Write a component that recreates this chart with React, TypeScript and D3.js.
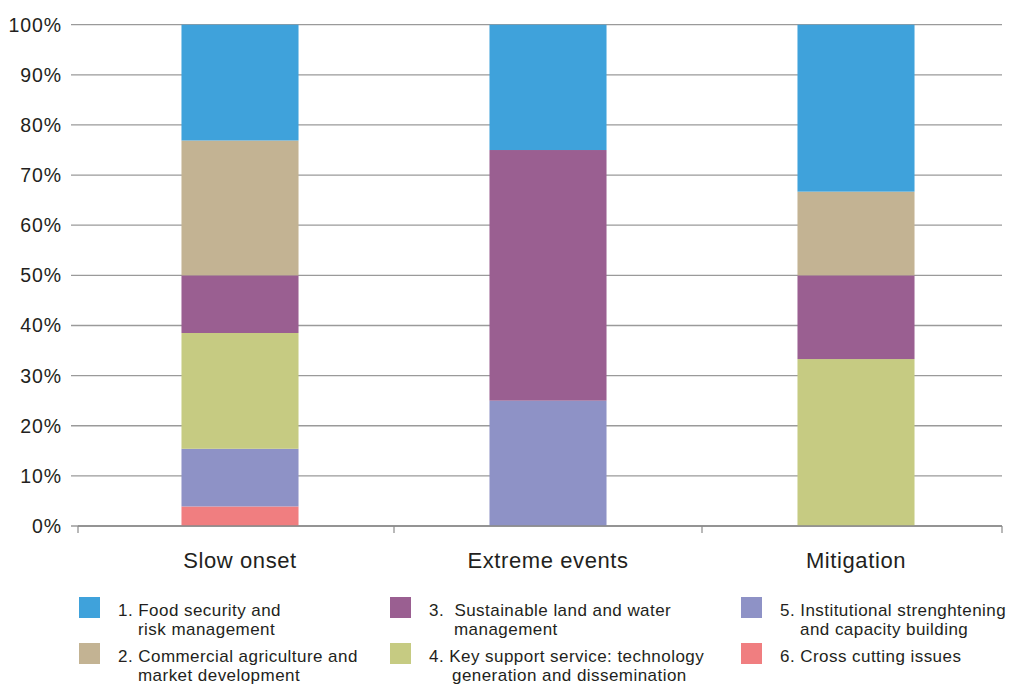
import React from "react";
import * as d3 from "d3";

const categories = ["Slow onset", "Extreme events", "Mitigation"];
const seriesNames = [
  "1. Food security and|risk management",
  "2. Commercial agriculture and|market development",
  "3.  Sustainable land and water|management",
  "4. Key support service: technology|generation and dissemination",
  "5. Institutional strenghtening|and capacity building",
  "6. Cross cutting issues",
];
const seriesKeys = ["food", "commercial", "sustainable", "support", "institutional", "cross"];
const colors = ["#3FA2DB", "#C3B393", "#9A5F91", "#C6CB82", "#8E92C6", "#F07E80"];
// percentages per category
const food = [23.1, 25, 33.3];
const commercial = [26.9, 0, 16.7];
const sustainable = [11.5, 50, 16.7];
const support = [23.1, 0, 33.3];
const institutional = [11.5, 25, 0];
const cross = [3.9, 0, 0];
const yTicks = [0, 10, 20, 30, 40, 50, 60, 70, 80, 90, 100];

export default function App() {
  const W = 1011, H = 684;
  const x0 = 78, x1 = 1002, yTop = 24.7, yBot = 526;
  const x = d3.scaleBand<string>().domain(categories).range([x0 + 8, x1 + 8]).paddingInner(0.62).paddingOuter(0.31);
  const y = d3.scaleLinear().domain([0, 100]).range([yBot, yTop]);
  const rows = categories.map((c, i) => ({
    cat: c,
    food: food[i],
    commercial: commercial[i],
    sustainable: sustainable[i],
    support: support[i],
    institutional: institutional[i],
    cross: cross[i],
  }));
  const stackOrder = [...seriesKeys].reverse();
  const stacked = d3.stack<any>().keys(stackOrder)(rows);
  const tickXs = [x0, ...categories.slice(1).map((c, i) => {
    const prevEnd = (x(categories[i]) as number) + x.bandwidth();
    return (prevEnd + (x(c) as number)) / 2;
  }), x1];
  const font = "'Liberation Sans', Arial, Helvetica, sans-serif";
  const legendCols = [79, 390, 741];
  const legendText = [118, 429, 780];
  const legendIndent = [138, 454, 800];
  const legendRows = [597, 643];
  return (
    <svg width={W} height={H} style={{ position: "absolute", left: 0, top: 0, background: "#fff" }} fontFamily={font}>
      {yTicks.map((t) => (
        <g key={t}>
          <line x1={x0 - 7} x2={x1} y1={y(t)} y2={y(t)} stroke="#9a9a9a" strokeWidth={1.3} />
          <text x={62} y={y(t) + 7} textAnchor="end" fontSize={19.5} letterSpacing={0.9} fill="#231f20">{t}%</text>
        </g>
      ))}
      {stacked.map((s) => {
        const ci = seriesKeys.indexOf(s.key);
        return s.map((d, j) =>
          d[1] - d[0] > 0 ? (
            <rect key={s.key + j} x={x(categories[j])} width={x.bandwidth()} y={y(d[1])} height={y(d[0]) - y(d[1])} fill={colors[ci]} />
          ) : null
        );
      })}
      <line x1={x0} x2={x1} y1={yBot} y2={yBot} stroke="#8a8a8a" strokeWidth={1.3} />
      {tickXs.map((tx, i) => (
        <line key={i} x1={tx} x2={tx} y1={yBot} y2={yBot + 7} stroke="#8a8a8a" strokeWidth={1.2} />
      ))}
      {categories.map((c) => (
        <text key={c} x={(x(c) as number) + x.bandwidth() / 2} y={568} textAnchor="middle" fontSize={22} letterSpacing={0.6} fill="#231f20">{c}</text>
      ))}
      {seriesNames.map((n, i) => {
        const col = Math.floor(i / 2);
        const row = i % 2;
        const ly = legendRows[row];
        const lines = n.split("|");
        return (
          <g key={n}>
            <rect x={legendCols[col]} y={ly} width={21} height={21} fill={colors[i]} />
            <text x={legendText[col]} y={ly + 19} fontSize={17} letterSpacing={0.45} fill="#231f20" style={{ whiteSpace: "pre" }}>{lines[0]}</text>
            {lines[1] && (
              <text x={legendIndent[col] - (col === 1 && row === 1 ? 2 : 0)} y={ly + 38} fontSize={17} letterSpacing={0.45} fill="#231f20">{lines[1]}</text>
            )}
          </g>
        );
      })}
    </svg>
  );
}
